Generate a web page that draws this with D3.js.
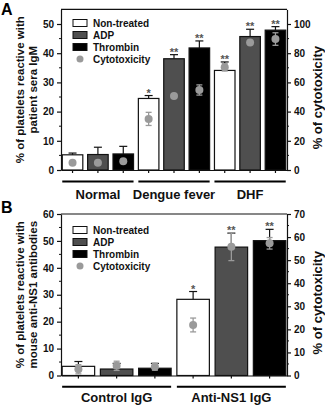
<!DOCTYPE html>
<html><head><meta charset="utf-8">
<script src="https://cdn.jsdelivr.net/npm/d3@7"></script>
<style>
body{margin:0;background:#fff;}
svg{display:block;font-family:"Liberation Sans",Arial,sans-serif;}
text{font-weight:bold;}
</style></head><body>
<svg id="c" width="325" height="411"></svg>
<script>
// ---------- data ----------
const treatments = ["Non-treated","ADP","Thrombin"];
const legendLabels = ["Non-treated","ADP","Thrombin","Cytotoxicity"];

const groupsA = ["Normal","Dengue fever","DHF"];
const barsA = [5.2,5.3,5.5, 24.5,38.1,41.8, 34.1,45.7,47.9];
const barErrA = [0.6,2.5,2.6, 1.0,1.4,2.4, 2.9,2.5,1.2];
const cytoA = [5,5,6, 35,50.7,54.8, 70.3,87.4,89.7];
const cytoErrA = [0,0,0, 4.5,0,3.5, 2.5,0,4.3];
const starsA = ["","","","*","**","**","**","**","**"];
const leftTicksA = [0,10,20,30,40,50];
const rightTicksA = [0,20,40,60,80,100];

const groupsB = ["Control IgG","Anti-NS1 IgG"];
const barsB = [3.4,2.4,2.7, 28.3,47.7,50.1];
const barErrB = [1.8,2.1,1.8, 2.9,5.2,4.2];
const cytoB = [2.7,4.2,3.8, 21.9,55.8,57.3];
const cytoErrB = [2,2,1.5, 3,6,2.5];
const starsB = ["","","","*","**","**"];
const leftTicksB = [0,10,20,30,40,50,60];
const rightTicksB = [0,10,20,30,40,50,60,70];

const fills = ["#ffffff","#4f4f4f","#000000"];
const dotColor = "#9a9a9a";

const svg = d3.select("#c");

function panel(o){
  const g = svg.append("g");
  const xL = 61, xR = 287;
  const keys = o.bars.map((d,i)=>i);
  const x = d3.scaleBand().domain(keys).range([xL,xR]).paddingInner(o.padIn).paddingOuter(o.padOut);
  const y = d3.scaleLinear().domain([0,o.yMax]).range([o.y0,o.yTop]);
  const y2 = d3.scaleLinear().domain([0,o.y2Max]).range([o.y0,o.yTop]);

  // bars
  g.selectAll(".bar").data(o.bars).join("rect")
    .attr("x",(d,i)=>x(i)).attr("width",x.bandwidth())
    .attr("y",d=>y(d)).attr("height",d=>o.y0-y(d))
    .attr("fill",(d,i)=>fills[i%3]).attr("stroke","#111").attr("stroke-width",1.2);

  // bar error bars (upper)
  o.bars.forEach((d,i)=>{
    const cx = x(i)+x.bandwidth()/2, yt = y(d+o.barErr[i]);
    g.append("line").attr("x1",cx).attr("x2",cx).attr("y1",y(d)).attr("y2",yt).attr("stroke","#111").attr("stroke-width",1.2);
    g.append("line").attr("x1",cx-4).attr("x2",cx+4).attr("y1",yt).attr("y2",yt).attr("stroke","#111").attr("stroke-width",1.2);
  });

  // cytotoxicity dots
  o.cyto.forEach((d,i)=>{
    const cx = x(i)+x.bandwidth()/2, e=o.cytoErr[i];
    if(e>0){
      g.append("line").attr("x1",cx).attr("x2",cx).attr("y1",y2(d-e)).attr("y2",y2(d+e)).attr("stroke",dotColor).attr("stroke-width",1.3);
      [d-e,d+e].forEach(v=>g.append("line").attr("x1",cx-3).attr("x2",cx+3).attr("y1",y2(v)).attr("y2",y2(v)).attr("stroke",dotColor).attr("stroke-width",1.3));
    }
    g.append("circle").attr("cx",cx).attr("cy",y2(d)).attr("r",4).attr("fill",dotColor);
  });

  // stars
  o.stars.forEach((s,i)=>{
    if(!s) return;
    const cx = x(i)+x.bandwidth()/2;
    const top = Math.min(y(o.bars[i]+o.barErr[i]), y2(o.cyto[i]+o.cytoErr[i]));
    g.append("text").attr("x",cx).attr("y",top+1).attr("text-anchor","middle")
      .attr("font-size",11).attr("fill","#555").text(s);
  });

  // axes
  const la = d3.axisLeft(y).tickValues(o.leftTicks).tickSize(4).tickSizeOuter(0).tickPadding(3);
  const lag = g.append("g").attr("transform",`translate(${xL},0)`).call(la);
  const ra = d3.axisRight(y2).tickValues(o.rightTicks).tickSize(4).tickSizeOuter(0).tickPadding(3);
  const rag = g.append("g").attr("transform",`translate(${xR},0)`).call(ra);
  [lag,rag].forEach(a=>{
    a.selectAll("text").attr("font-size",10).attr("font-weight","bold").attr("fill","#111").attr("font-family","Liberation Sans, Arial, sans-serif");
    a.selectAll("path,line").attr("stroke","#111").attr("stroke-width",1.2);
  });
  // minor ticks
  d3.range(o.leftMinor, o.yMax, o.leftMinorStep*2).forEach(v=>{
    g.append("line").attr("x1",xL-2).attr("x2",xL).attr("y1",y(v)).attr("y2",y(v)).attr("stroke","#111");
  });
  d3.range(o.rightMinor, o.y2Max, o.rightMinorStep*2).forEach(v=>{
    g.append("line").attr("x1",xR).attr("x2",xR+2).attr("y1",y2(v)).attr("y2",y2(v)).attr("stroke","#111");
  });
  const ba = d3.axisBottom(x).tickSize(3).tickSizeOuter(0).tickFormat("");
  g.append("g").attr("transform",`translate(0,${o.y0})`).call(ba)
    .selectAll("path,line").attr("stroke","#111").attr("stroke-width",1.2);
  // top frame
  g.append("line").attr("x1",xL).attr("x2",xR).attr("y1",o.yTop).attr("y2",o.yTop).attr("stroke","#111").attr("stroke-width",1.2);

  // group lines and labels
  const per = 3;
  o.groups.forEach((gn,k)=>{
    const a = x(k*per), b = x(k*per+per-1)+x.bandwidth();
    g.append("line").attr("x1",a).attr("x2",b).attr("y1",o.gLineY).attr("y2",o.gLineY).attr("stroke","#000").attr("stroke-width",2);
    g.append("text").attr("x",(a+b)/2).attr("y",o.gLabelY).attr("text-anchor","middle").attr("font-size",13).attr("fill","#111").text(gn);
  });

  // y titles
  const cy = (o.y0+o.yTop)/2;
  o.yTitle.forEach((t,k)=>{
    g.append("text").attr("transform",`translate(${24+k*12.5},${cy}) rotate(-90)`).attr("text-anchor","middle")
      .attr("font-size",11.5).attr("fill","#111").text(t);
  });
  g.append("text").attr("transform",`translate(321.5,${cy+8}) rotate(-90)`).attr("text-anchor","middle")
    .attr("font-size",13).attr("fill","#111").text("% of cytotoxicity");

  // panel letter
  g.append("text").attr("x",1).attr("y",o.letterY).attr("font-size",16).attr("fill","#000").text(o.letter);

  // legend
  legendLabels.forEach((l,k)=>{
    const ly = o.legY + k*12;
    if(k<3){
      g.append("rect").attr("x",73).attr("y",ly-3.5).attr("width",14).attr("height",7).attr("fill",fills[k]).attr("stroke","#111").attr("stroke-width",1);
    } else {
      g.append("circle").attr("cx",80).attr("cy",ly).attr("r",3.5).attr("fill",dotColor);
    }
    g.append("text").attr("x",93).attr("y",ly+3.6).attr("font-size",10).attr("fill","#111").text(l);
  });
}

panel({bars:barsA,barErr:barErrA,cyto:cytoA,cytoErr:cytoErrA,stars:starsA,groups:groupsA,
  yMax:55,y2Max:110,y0:170,yTop:9.4,padIn:0.19,padOut:0.05,
  leftTicks:leftTicksA,rightTicks:rightTicksA,leftMinor:5,leftMinorStep:5,rightMinor:10,rightMinorStep:10,
  gLineY:181.5,gLabelY:198.5,yTitle:["% of platelets reactive with","patient sera IgM"],
  letter:"A",letterY:14.5,legY:23});

panel({bars:barsB,barErr:barErrB,cyto:cytoB,cytoErr:cytoErrB,stars:starsB,groups:groupsB,
  yMax:60,y2Max:70,y0:375.5,yTop:214,padIn:0.15,padOut:0.03,
  leftTicks:leftTicksB,rightTicks:rightTicksB,leftMinor:5,leftMinorStep:5,rightMinor:5,rightMinorStep:5,
  gLineY:386.7,gLabelY:402,yTitle:["% of platelets reactive with","mouse anti-NS1 antibodies"],
  letter:"B",letterY:213,legY:230});
</script>
</body></html>
